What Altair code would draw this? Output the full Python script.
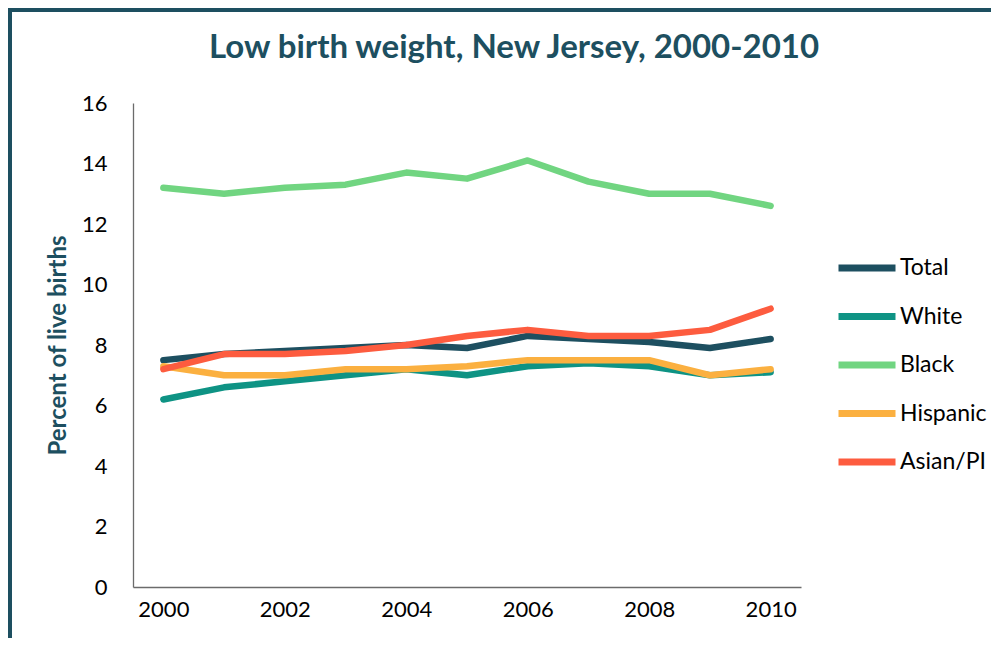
import altair as alt
import pandas as pd

years = list(range(2000, 2011))
series = ["Total", "White", "Black", "Hispanic", "Asian/PI"]
colors = ["#1d4f60", "#0e9384", "#71d581", "#fbb040", "#fd5c3f"]

total = [7.5, 7.7, 7.8, 7.9, 8.0, 7.9, 8.3, 8.2, 8.1, 7.9, 8.2]
white = [6.2, 6.6, 6.8, 7.0, 7.2, 7.0, 7.3, 7.4, 7.3, 7.0, 7.1]
black = [13.2, 13.0, 13.2, 13.3, 13.7, 13.5, 14.1, 13.4, 13.0, 13.0, 12.6]
hispanic = [7.3, 7.0, 7.0, 7.2, 7.2, 7.3, 7.5, 7.5, 7.5, 7.0, 7.2]
asian = [7.2, 7.7, 7.7, 7.8, 8.0, 8.3, 8.5, 8.3, 8.3, 8.5, 9.2]

x_ticks = [2000, 2002, 2004, 2006, 2008, 2010]
title_text = "Low birth weight, New Jersey, 2000-2010"

rows = []
for name, vals in zip(series, [total, white, black, hispanic, asian]):
    for y, v in zip(years, vals):
        rows.append({"year": y, "value": v, "group": name})
df = pd.DataFrame(rows)

FONT = "Lato"
DARK = "#1d4f60"

lines = alt.Chart(df).mark_line(strokeWidth=6.5, strokeCap="round", strokeJoin="round").encode(
    x=alt.X("year:O", scale=alt.Scale(type="point", padding=0.5),
            axis=alt.Axis(values=x_ticks, labelAngle=0, title=None, ticks=False,
                          labelPadding=12, labelFontSize=22, labelColor="#000000",
                          domainColor="#6b6b6b", domainWidth=1.3, labelFont=FONT)),
    y=alt.Y("value:Q", scale=alt.Scale(domain=[0, 16]),
            axis=alt.Axis(values=list(range(0, 17, 2)), grid=False, ticks=False,
                          title="Percent of live births", titleFontSize=24,
                          titleColor=DARK, titleFont=FONT, titleFontWeight="bold",
                          titlePadding=11, labelPadding=26, labelFontSize=22,
                          labelColor="#000000", labelFont=FONT,
                          domainColor="#6b6b6b", domainWidth=1.3)),
    color=alt.Color("group:N", scale=alt.Scale(domain=series, range=colors),
                    legend=alt.Legend(title=None, orient="none", legendX=702, legendY=133,
                                      symbolType="stroke", symbolSize=3249,
                                      symbolStrokeWidth=7, labelFontSize=23,
                                      labelFont=FONT, labelColor="#000000",
                                      rowPadding=2.5, labelOffset=1)),
    detail="group:N",
)

frame = pd.DataFrame({"k": [0]})
left_border = alt.Chart(frame).mark_rule(color=DARK, strokeWidth=4).encode(
    x=alt.value(-123), y=alt.value(-95), y2=alt.value(535))
top_border = alt.Chart(frame).mark_rule(color=DARK, strokeWidth=4).encode(
    x=alt.value(-125), x2=alt.value(865), y=alt.value(-93))
title = alt.Chart(frame).mark_text(fontSize=33, font=FONT, fontWeight="bold", color=DARK,
                                   align="center", baseline="middle").encode(
    x=alt.value(381), y=alt.value(-55), text=alt.value(title_text))

chart = alt.layer(lines, left_border, top_border, title).properties(
    width=668, height=484,
    padding={"left": 125, "top": 95, "right": 190, "bottom": 51},
    autosize=alt.AutoSizeParams(type="none"),
    background="white",
).configure_view(stroke=None)

chart.save("out.html", embed_options={"renderer": "svg", "actions": False})
